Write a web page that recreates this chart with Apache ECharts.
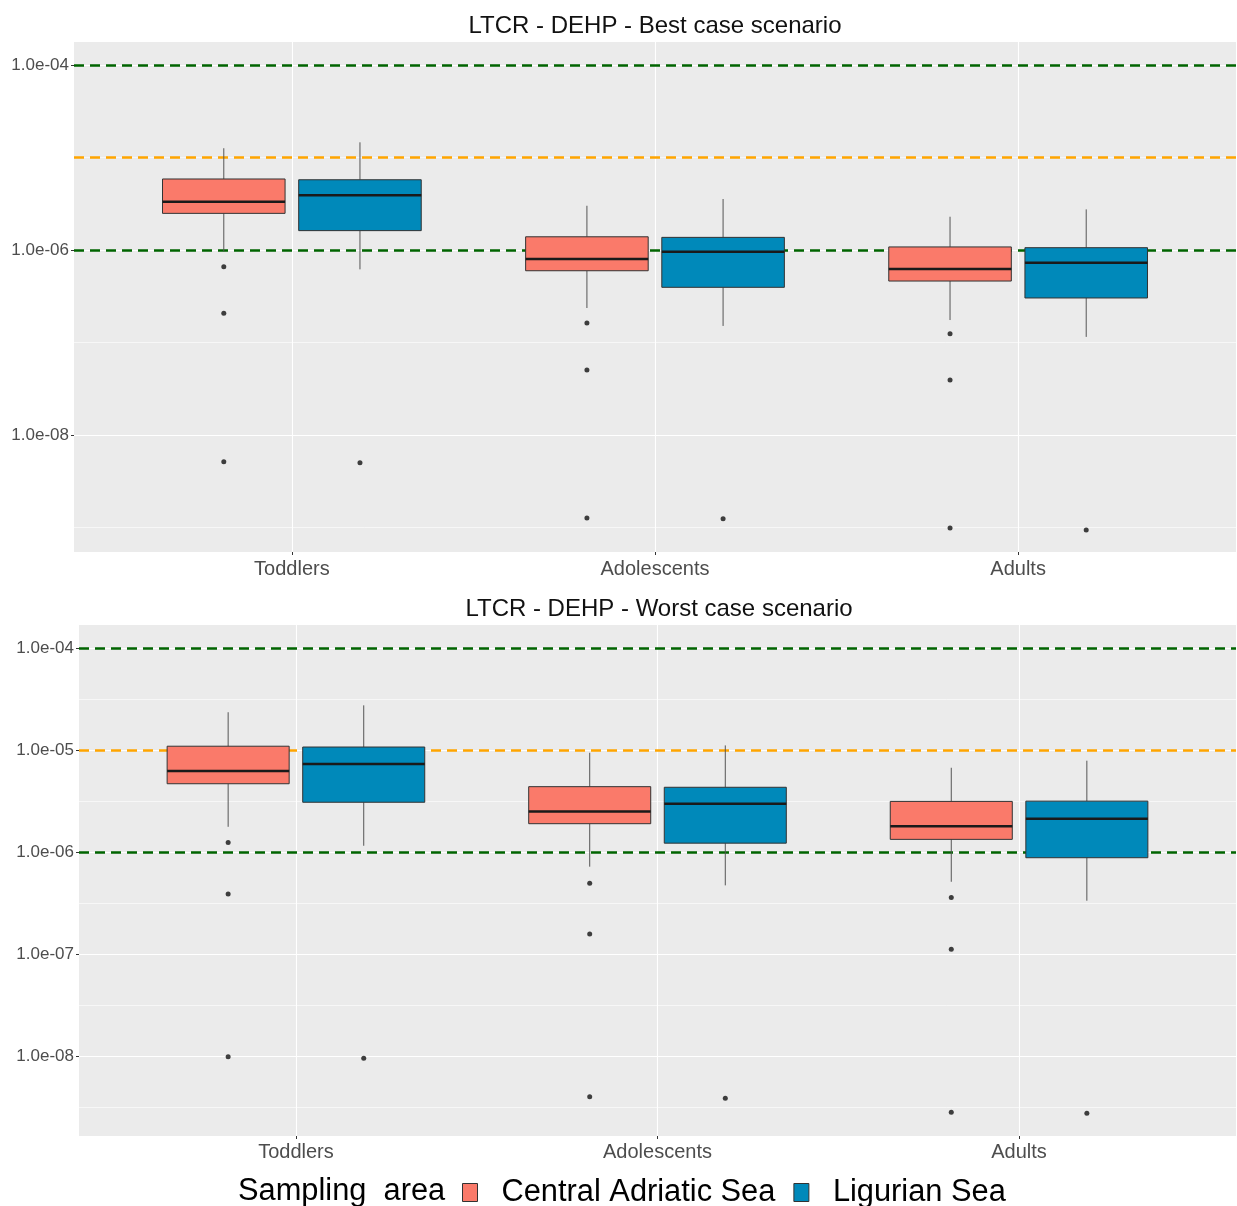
<!DOCTYPE html>
<html>
<head>
<meta charset="utf-8">
<title>LTCR - DEHP</title>
<script src="https://cdn.jsdelivr.net/npm/echarts@6/dist/echarts.min.js"></script>
<style>
    html, body { margin: 0; padding: 0; background: #fff; }
    #chart { width: 1237px; height: 1206px; }
</style>
</head>
<body>
<div id="chart"></div>
<script>
// categories and groups
const categories = ['Toddlers', 'Adolescents', 'Adults'];
const regions = ['Central Adriatic Sea', 'Ligurian Sea'];

// box stats per category: [lower whisker, Q1, median, Q3, upper whisker]
const bestAdriatic = [
    [9.6e-7, 2.49e-6, 3.33e-6, 5.86e-6, 1.26e-5],
    [2.36e-7, 5.97e-7, 8.0e-7, 1.39e-6, 3.01e-6],
    [1.75e-7, 4.62e-7, 6.24e-7, 1.08e-6, 2.29e-6]
];
const bestLigurian = [
    [6.18e-7, 1.62e-6, 3.90e-6, 5.75e-6, 1.46e-5],
    [1.51e-7, 3.95e-7, 9.59e-7, 1.37e-6, 3.56e-6],
    [1.15e-7, 3.03e-7, 7.29e-7, 1.06e-6, 2.75e-6]
];
const worstAdriatic = [
    [1.78e-6, 4.71e-6, 6.28e-6, 1.10e-5, 2.37e-5],
    [7.23e-7, 1.91e-6, 2.52e-6, 4.41e-6, 9.48e-6],
    [5.14e-7, 1.34e-6, 1.80e-6, 3.16e-6, 6.76e-6]
];
const worstLigurian = [
    [1.16e-6, 3.10e-6, 7.36e-6, 1.08e-5, 2.77e-5],
    [4.74e-7, 1.23e-6, 3.00e-6, 4.35e-6, 1.12e-5],
    [3.35e-7, 8.85e-7, 2.14e-6, 3.18e-6, 7.93e-6]
];

// outliers per category
const bestAdriaticOut = [[6.59e-7, 2.07e-7, 5.14e-9], [1.63e-7, 5.05e-8, 1.27e-9], [1.24e-7, 3.94e-8, 9.89e-10]];
const bestLigurianOut = [[5.02e-9], [1.24e-9], [9.40e-10]];
const worstAdriaticOut = [[1.25e-6, 3.90e-7, 9.86e-9], [4.97e-7, 1.58e-7, 4.0e-9], [3.60e-7, 1.12e-7, 2.81e-9]];
const worstLigurianOut = [[9.51e-9], [3.85e-9], [2.75e-9]];

// reference risk levels
const greenLevels = [1e-4, 1e-6];
const orangeLevels = [1e-5];

// y tick labels (exponents)
const bestTicks = [-8, -6, -4];
const bestMinor = [-9, -7, -5];
const worstTicks = [-8, -7, -6, -5, -4];
const worstMinor = [-8.5, -7.5, -6.5, -5.5, -4.5];

const colors = ['#FA7A6A', '#0089BA'];
const dodge = [-0.1875, 0.1875];
const boxWidth = 0.3375;
const font = '"Liberation Sans", Arial, sans-serif';

const chart = echarts.init(document.getElementById('chart'));

function boxRows(stats, k) {
    return stats.map((s, i) => [i + 1 + dodge[k]].concat(s.map(v => Math.log10(v))));
}
function outRows(outs, k) {
    const rows = [];
    outs.forEach((list, i) => list.forEach(v => rows.push([i + 1 + dodge[k], Math.log10(v)])));
    return rows;
}

function renderBox(params, api) {
    const x = api.value(0);
    const lo = api.coord([x, api.value(1)]);
    const q1 = api.coord([x, api.value(2)]);
    const md = api.coord([x, api.value(3)]);
    const q3 = api.coord([x, api.value(4)]);
    const hi = api.coord([x, api.value(5)]);
    const w = api.size([boxWidth, 0], [x, api.value(3)])[0];
    const color = api.visual('color');
    return {
        type: 'group',
        children: [
            { type: 'line', shape: { x1: lo[0], y1: lo[1], x2: q1[0], y2: q1[1] }, style: { stroke: '#555', lineWidth: 1 } },
            { type: 'line', shape: { x1: q3[0], y1: q3[1], x2: hi[0], y2: hi[1] }, style: { stroke: '#555', lineWidth: 1 } },
            { type: 'rect', shape: { x: q3[0] - w / 2, y: q3[1], width: w, height: q1[1] - q3[1] }, style: { fill: color, stroke: '#333', lineWidth: 1 } },
            { type: 'line', shape: { x1: md[0] - w / 2, y1: md[1], x2: md[0] + w / 2, y2: md[1] }, style: { stroke: '#1a1a1a', lineWidth: 2.5 } }
        ]
    };
}

function refLines(minor) {
    const items = minor.map(v => ({ yAxis: v, lineStyle: { color: '#fff', width: 0.6, type: 'solid' } }));
    greenLevels.forEach(v => items.push({ yAxis: Math.log10(v), lineStyle: { color: '#006400', width: 2.5, type: [10, 6] } }));
    orangeLevels.forEach(v => items.push({ yAxis: Math.log10(v), lineStyle: { color: '#FFA500', width: 2.5, type: [10, 6] } }));
    return items;
}

function panelSeries(idx, statsA, statsL, outA, outL, minor) {
    return [
        {
            type: 'line', xAxisIndex: idx, yAxisIndex: idx, data: [], z: 1, silent: true,
            markLine: {
                silent: true, symbol: ['none', 'none'], label: { show: false }, animation: false,
                emphasis: { disabled: true }, data: refLines(minor)
            }
        },
        {
            name: regions[0], type: 'custom', xAxisIndex: idx, yAxisIndex: idx, z: 10,
            itemStyle: { color: colors[0] }, renderItem: renderBox,
            encode: { x: 0, y: [1, 2, 3, 4, 5] }, data: boxRows(statsA, 0)
        },
        {
            name: regions[1], type: 'custom', xAxisIndex: idx, yAxisIndex: idx, z: 10,
            itemStyle: { color: colors[1] }, renderItem: renderBox,
            encode: { x: 0, y: [1, 2, 3, 4, 5] }, data: boxRows(statsL, 1)
        },
        {
            type: 'scatter', xAxisIndex: idx, yAxisIndex: idx, z: 11, symbolSize: 5,
            itemStyle: { color: '#111' }, data: outRows(outA, 0)
        },
        {
            type: 'scatter', xAxisIndex: idx, yAxisIndex: idx, z: 11, symbolSize: 5,
            itemStyle: { color: '#111' }, data: outRows(outL, 1)
        }
    ];
}

function xAxisFor(idx, margin) {
    return {
        type: 'value', gridIndex: idx, min: 0.4, max: 3.6,
        axisLine: { show: false },
        axisTick: { show: true, length: 3, customValues: [1, 2, 3], lineStyle: { color: '#333' } },
        axisLabel: {
            customValues: [1, 2, 3], margin: margin, fontSize: 20, color: '#4D4D4D', fontFamily: font,
            formatter: v => categories[Math.round(v) - 1]
        },
        splitLine: { show: true, lineStyle: { color: '#fff', width: 1.1 } }
    };
}

function yAxisFor(idx, min, max, ticks) {
    return {
        type: 'value', gridIndex: idx, min: min, max: max,
        axisLine: { show: false },
        axisTick: { show: true, length: 3, customValues: ticks, lineStyle: { color: '#333' } },
        axisLabel: {
            customValues: ticks, margin: 5, fontSize: 17, color: '#4D4D4D', fontFamily: font,
            formatter: v => '1.0e-' + String(Math.round(-v)).padStart(2, '0')
        },
        splitLine: { show: true, lineStyle: { color: '#fff', width: 1.1 } }
    };
}

const titleStyle = { fontSize: 24, fontWeight: 'normal', color: '#111', fontFamily: font, lineHeight: 24 };

chart.setOption({
    animation: false,
    backgroundColor: '#fff',
    title: [
        { text: 'LTCR - DEHP - Best case scenario', left: 655, top: 14, textAlign: 'center', padding: 0, textStyle: titleStyle },
        { text: 'LTCR - DEHP - Worst case scenario', left: 659, top: 597, textAlign: 'center', padding: 0, textStyle: titleStyle },
        { text: 'Sampling  area', left: 238, top: 1177, padding: 0,
          textStyle: { fontSize: 30.8, fontWeight: 'normal', color: '#000', fontFamily: font, lineHeight: 30 } }
    ],
    legend: {
        left: 462, top: 1177, padding: 0, itemGap: 18, itemWidth: 15, itemHeight: 18,
        icon: 'rect',
        data: [
            { name: regions[0], itemStyle: { color: colors[0], borderColor: '#333', borderWidth: 1 } },
            { name: regions[1], itemStyle: { color: colors[1], borderColor: '#333', borderWidth: 1 } }
        ],
        textStyle: { fontSize: 30.8, color: '#000', fontFamily: font, lineHeight: 30, padding: [0, 0, 0, 19] },
        selectedMode: false
    },
    grid: [
        { left: 74, top: 42, width: 1162, height: 510, show: true, backgroundColor: '#EBEBEB', borderWidth: 0 },
        { left: 79, top: 625, width: 1157, height: 511, show: true, backgroundColor: '#EBEBEB', borderWidth: 0 }
    ],
    xAxis: [xAxisFor(0, 7), xAxisFor(1, 6)],
    yAxis: [
        yAxisFor(0, -9.265, -3.751, bestTicks),
        yAxisFor(1, -8.784, -3.769, worstTicks)
    ],
    series: [].concat(
        panelSeries(0, bestAdriatic, bestLigurian, bestAdriaticOut, bestLigurianOut, bestMinor),
        panelSeries(1, worstAdriatic, worstLigurian, worstAdriaticOut, worstLigurianOut, worstMinor)
    )
});
</script>
</body>
</html>
